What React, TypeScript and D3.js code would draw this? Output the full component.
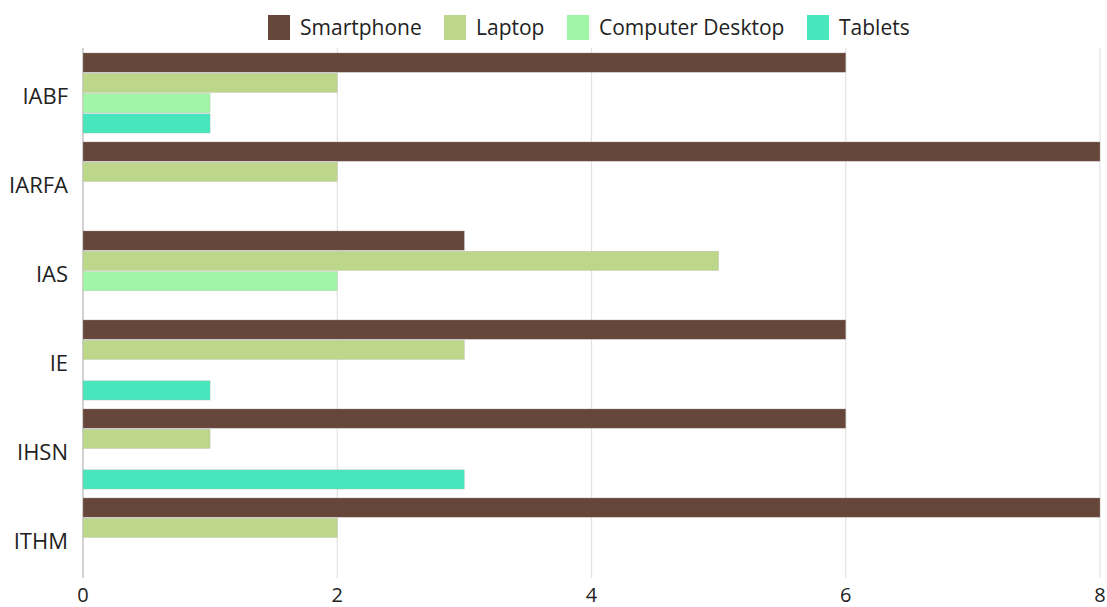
import React from "react";
import * as d3 from "d3";

const categories = ["IABF", "IARFA", "IAS", "IE", "IHSN", "ITHM"];
const seriesNames = ["Smartphone", "Laptop", "Computer Desktop", "Tablets"];
const smartphone = [6, 8, 3, 6, 6, 8];
const laptop = [2, 2, 5, 3, 1, 2];
const desktop = [1, 0, 2, 0, 0, 0];
const tablets = [1, 0, 0, 1, 3, 0];
const xTicks = [0, 2, 4, 6, 8];
const colors = ["#67463A", "#BDD78A", "#A1F5A6", "#47E6BD"];

const W = 1107;
const H = 607;
const FONT = "'Open Sans', 'Noto Sans', sans-serif";

export default function App() {
  const values = [smartphone, laptop, desktop, tablets];
  const x = d3.scaleLinear().domain([0, 8]).range([83, 1100]);
  const y = d3
    .scaleBand<string>()
    .domain(categories)
    .range([48.5, 582.5])
    .paddingInner(0.1)
    .paddingOuter(0.05);
  const sub = d3
    .scaleBand<string>()
    .domain(seriesNames)
    .range([0, y.bandwidth()])
    .paddingInner(0.05);

  const legendX = [268, 444, 567, 807];

  return (
    <svg width={W} height={H} style={{ position: "absolute", left: 0, top: 0 }}>
      <rect x={0} y={0} width={W} height={H} fill="#ffffff" />
      {/* legend */}
      {seriesNames.map((s, i) => (
        <g key={s}>
          <rect x={legendX[i]} y={15} width={22} height={25} fill={colors[i]} />
          <text
            x={legendX[i] + 32}
            y={27}
            dominantBaseline="central"
            fontFamily={FONT}
            fontSize={21}
            fill="#222"
          >
            {s}
          </text>
        </g>
      ))}
      {/* grid */}
      {xTicks.map((t) => (
        <line
          key={t}
          x1={x(t)}
          x2={x(t)}
          y1={48}
          y2={578}
          stroke={t === 0 ? "#b5b5b5" : "#e2e2e2"}
          strokeWidth={1.2}
        />
      ))}
      {/* bars */}
      {categories.map((c, ci) => (
        <g key={c} transform={`translate(0,${y(c)})`}>
          {seriesNames.map((s, si) =>
            values[si][ci] > 0 ? (
              <rect
                key={s}
                x={x(0)}
                y={sub(s)}
                width={x(values[si][ci]) - x(0)}
                height={sub.bandwidth()}
                fill={colors[si]}
                stroke="rgba(180,180,180,0.5)"
                strokeWidth={0.6}
              />
            ) : null
          )}
        </g>
      ))}
      {/* y labels */}
      {categories.map((c) => (
        <text
          key={c}
          x={68}
          y={(y(c) as number) + y.bandwidth() / 2 + 2}
          textAnchor="end"
          dominantBaseline="central"
          fontFamily={FONT}
          fontSize={22}
          fill="#222"
        >
          {c}
        </text>
      ))}
      {/* x tick labels */}
      {xTicks.map((t) => (
        <text
          key={t}
          x={x(t)}
          y={594}
          textAnchor="middle"
          dominantBaseline="central"
          fontFamily={FONT}
          fontSize={20}
          fill="#222"
        >
          {t}
        </text>
      ))}
    </svg>
  );
}
